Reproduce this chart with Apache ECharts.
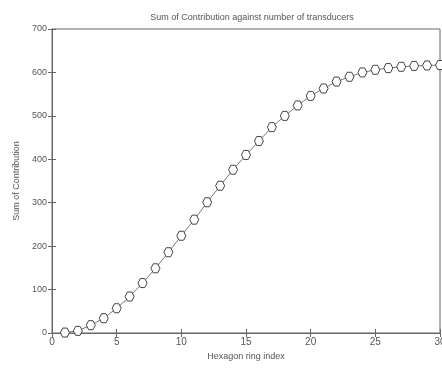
<!DOCTYPE html>
<html lang="en">
<head>
    <meta charset="UTF-8">
    <title>Sum of Contribution</title>
    <script src="https://cdn.jsdelivr.net/npm/echarts@6/dist/echarts.min.js"></script>
    <style type="text/css">
        body{ margin: 0; background: #fff; }
    </style>
</head>
<body>
<div id="main" style="width: 442px;height:368px;"></div>
<script type="text/javascript">
    // ring index and summed contribution
    var ringIndex = [1,2,3,4,5,6,7,8,9,10,11,12,13,14,15,16,17,18,19,20,21,22,23,24,25,26,27,28,29,30];
    var contribution = [1,5,18,34,57,84,115,149,186,224,261,301,339,376,410,442,474,500,524,546,563,579,590,600,606,610,613,615,616,617];
    var xTicks = [0,5,10,15,20,25,30];
    var yTicks = [0,100,200,300,400,500,600,700];

    var data = [];
    for (var i = 0; i < ringIndex.length; i++) {
        data.push([ringIndex[i], contribution[i]]);
    }

    var myChart = echarts.init(document.getElementById('main'));
    var txt = {color: '#555', fontSize: 9, fontFamily: 'Liberation Sans'};
    var hexagon = 'path://M-1,0 L-0.5,-0.87 L0.5,-0.87 L1,0 L0.5,0.87 L-0.5,0.87 Z';

    option = {
        animation: false,
        backgroundColor: '#fff',
        title: {
            text: 'Sum of Contribution against number of transducers',
            left: 247, top: 8, textAlign: 'center',
            textStyle: {color: '#555', fontSize: 9, fontWeight: 'normal', fontFamily: 'Liberation Sans'}
        },
        grid: {left: 52, right: 2, top: 29, bottom: 35, outerBoundsMode: 'none',
               show: true, borderColor: '#666', borderWidth: 1},
        xAxis: [{
            type: 'value', min: xTicks[0], max: xTicks[xTicks.length - 1], interval: 5,
            name: 'Hexagon ring index', nameLocation: 'middle', nameGap: 15,
            nameTextStyle: txt,
            axisLine: {lineStyle: {color: '#666'}},
            axisTick: {inside: true, length: 4, lineStyle: {color: '#666'}},
            axisLabel: {color: '#555', fontSize: 10, margin: 4},
            splitLine: {show: false}
        }, {
            type: 'value', min: xTicks[0], max: xTicks[xTicks.length - 1], interval: 5, position: 'top',
            axisLine: {show: true, lineStyle: {color: '#666'}},
            axisTick: {show: true, inside: true, length: 4, lineStyle: {color: '#666'}},
            axisLabel: {show: false}, splitLine: {show: false}
        }],
        yAxis: [{
            type: 'value', min: yTicks[0], max: yTicks[yTicks.length - 1], interval: 100,
            name: 'Sum of Contribution', nameLocation: 'middle', nameGap: 30,
            nameTextStyle: txt,
            axisLine: {lineStyle: {color: '#666'}},
            axisTick: {inside: true, length: 4, lineStyle: {color: '#666'}},
            axisLabel: {color: '#555', fontSize: 9, margin: 5},
            splitLine: {show: false}
        }, {
            type: 'value', min: yTicks[0], max: yTicks[yTicks.length - 1], interval: 100, position: 'right',
            axisLine: {show: true, lineStyle: {color: '#666'}},
            axisTick: {show: true, inside: true, length: 4, lineStyle: {color: '#666'}},
            axisLabel: {show: false}, splitLine: {show: false}
        }],
        series: [{
            type: 'line',
            data: data,
            symbol: hexagon,
            symbolSize: 9,
            showAllSymbol: true,
            lineStyle: {color: '#777', width: 1},
            itemStyle: {color: '#fff', borderColor: '#444', borderWidth: 1}
        }]
    };
    myChart.setOption(option);
</script>
</body>
</html>
